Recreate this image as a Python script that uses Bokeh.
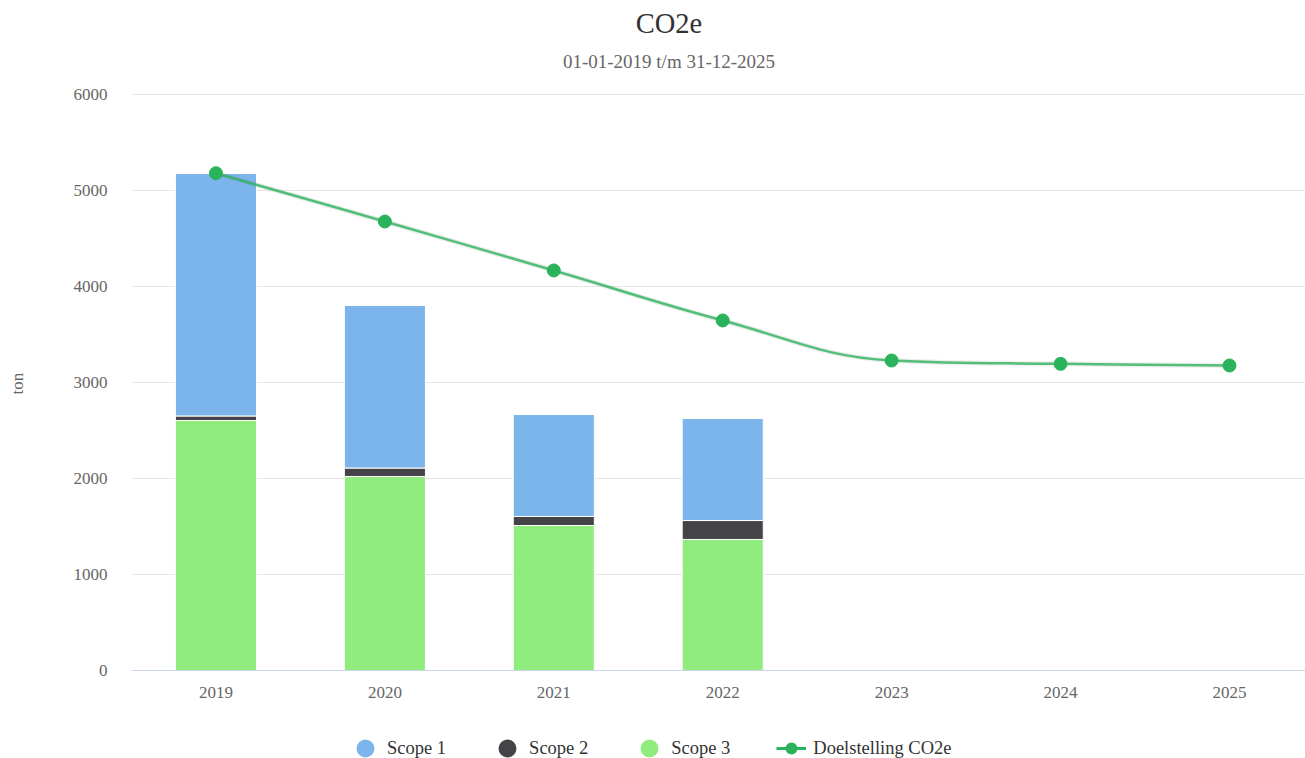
from bokeh.plotting import figure
from bokeh.models import (Range1d, FixedTicker, Label, Legend, LegendItem, ColumnDataSource)
from bokeh.embed import file_html
from bokeh.resources import INLINE

# ---- data ----
years = ["2019", "2020", "2021", "2022", "2023", "2024", "2025"]
bar_years = ["2019", "2020", "2021", "2022"]
scope1 = [2526, 1693, 1063, 1063]
scope2 = [47, 88, 94, 197]
scope3 = [2604, 2021, 1510, 1365]
doelstelling = [5180, 4677, 4167, 3646, 3229, 3194, 3177]
y_ticks = [0, 1000, 2000, 3000, 4000, 5000, 6000]
title_text = "CO2e"
subtitle_text = "01-01-2019 t/m 31-12-2025"

BLUE = "#7cb5ec"
DARK = "#434348"
GREEN = "#90ed7d"
LINE = "#2bb35b"
FONT = "Liberation Serif"

xs = [i + 1 for i in range(len(years))]
bar_x = [years.index(y) + 1 for y in bar_years]

# The frame covers almost the whole canvas; the range is padded below 0 (axis
# labels + legend) and above 6000 (titles) so that 0..6000 sits where it should.
p = figure(width=1305, height=758, x_range=Range1d(0.5, 7.45), y_range=Range1d(-917, 6896),
           output_backend="svg", toolbar_location=None,
           min_border_left=131, min_border_right=0, min_border_top=8, min_border_bottom=0)
p.outline_line_color = None
p.background_fill_color = "white"

src = ColumnDataSource(dict(x=bar_x, s1=scope1, s2=scope2, s3=scope3))
p.vbar_stack(["s3", "s2", "s1"], x="x", width=0.48, source=src,
             fill_color=[GREEN, DARK, BLUE], line_color="white", line_width=1)


# Highcharts-style spline: cubic bezier segments through the data points
def spline_source(xv, yv, smoothing=1.5):
    denom = smoothing + 1
    n = len(xv)
    left = [(xv[i], yv[i]) for i in range(n)]
    right = [(xv[i], yv[i]) for i in range(n)]
    for i in range(1, n - 1):
        x, y = xv[i], yv[i]
        lx, ly = xv[i - 1], yv[i - 1]
        nx, ny = xv[i + 1], yv[i + 1]
        lcx = (smoothing * x + lx) / denom
        lcy = (smoothing * y + ly) / denom
        rcx = (smoothing * x + nx) / denom
        rcy = (smoothing * y + ny) / denom
        corr = (rcy - lcy) * (rcx - x) / (rcx - lcx) + y - rcy
        lcy += corr
        rcy += corr
        if lcy > ly and lcy > y:
            lcy = max(ly, y); rcy = 2 * y - lcy
        elif lcy < ly and lcy < y:
            lcy = min(ly, y); rcy = 2 * y - lcy
        if rcy > ny and rcy > y:
            rcy = max(ny, y); lcy = 2 * y - rcy
        elif rcy < ny and rcy < y:
            rcy = min(ny, y); lcy = 2 * y - rcy
        left[i] = (lcx, lcy)
        right[i] = (rcx, rcy)
    d = dict(x0=[], y0=[], x1=[], y1=[], cx0=[], cy0=[], cx1=[], cy1=[])
    for i in range(1, n):
        d["x0"].append(xv[i - 1]); d["y0"].append(yv[i - 1])
        d["x1"].append(xv[i]); d["y1"].append(yv[i])
        d["cx0"].append(right[i - 1][0]); d["cy0"].append(right[i - 1][1])
        d["cx1"].append(left[i][0]); d["cy1"].append(left[i][1])
    return ColumnDataSource(d)


spl = spline_source(xs, doelstelling)
p.bezier(x0="x0", y0="y0", x1="x1", y1="y1", cx0="cx0", cy0="cy0", cx1="cx1", cy1="cy1",
         source=spl, line_color="#777777", line_width=5, line_alpha=0.13)
p.bezier(x0="x0", y0="y0", x1="x1", y1="y1", cx0="cx0", cy0="cy0", cx1="cx1", cy1="cy1",
         source=spl, line_color=LINE, line_width=2.5, line_alpha=0.8)
p.scatter(xs, doelstelling, size=13, marker="circle", fill_color=LINE, line_color=LINE)

# legend proxies (one NaN point each: nothing drawn in the plot, only in the legend)
nan = [float("nan")]
r1 = p.scatter(nan, nan, marker="circle", fill_color=BLUE, line_color=BLUE, line_width=8.4)
r2 = p.scatter(nan, nan, marker="circle", fill_color=DARK, line_color=DARK, line_width=8.4)
r3 = p.scatter(nan, nan, marker="circle", fill_color=GREEN, line_color=GREEN, line_width=8.4)
rl = p.line(nan, nan, color=LINE, line_width=3)
rm = p.scatter(nan, nan, marker="circle", fill_color=LINE, line_color=LINE, line_width=2.4)

leg = Legend(items=[LegendItem(label="Scope 1", renderers=[r1]),
                    LegendItem(label="Scope 2", renderers=[r2]),
                    LegendItem(label="Scope 3", renderers=[r3]),
                    LegendItem(label="Doelstelling CO2e", renderers=[rl, rm])],
             orientation="horizontal", location=(219, -2),
             glyph_width=30, glyph_height=24, label_standoff=7, spacing=46,
             padding=0, margin=0, border_line_color=None, background_fill_alpha=0,
             label_text_font=FONT, label_text_font_size="18.5px", label_text_color="#333333")
p.add_layout(leg, "center")

# titles (screen units from the frame's bottom-left corner)
p.add_layout(Label(x=537.5, y=735, x_units="screen", y_units="screen", text=title_text,
                   text_align="center", text_baseline="alphabetic", text_font=FONT,
                   text_font_size="28.5px", text_color="#333333"))
p.add_layout(Label(x=537.5, y=697, x_units="screen", y_units="screen", text=subtitle_text,
                   text_align="center", text_baseline="alphabetic", text_font=FONT,
                   text_font_size="19px", text_color="#666666"))

# axes
p.yaxis.ticker = FixedTicker(ticks=y_ticks)
p.yaxis.axis_line_color = None
p.yaxis.major_tick_line_color = None
p.yaxis.minor_tick_line_color = None
p.yaxis.major_tick_out = 0
p.yaxis.major_tick_in = 0
p.yaxis.major_label_text_font = FONT
p.yaxis.major_label_text_font_size = "17px"
p.yaxis.major_label_text_color = "#666666"
p.yaxis.major_label_standoff = 24
p.yaxis.axis_label = "ton"
p.yaxis.axis_label_text_font = FONT
p.yaxis.axis_label_text_font_size = "17px"
p.yaxis.axis_label_text_font_style = "normal"
p.yaxis.axis_label_text_color = "#666666"
p.yaxis.axis_label_standoff = 44

p.xaxis.fixed_location = 0
p.xaxis.ticker = FixedTicker(ticks=xs)
p.xaxis.major_label_overrides = {x: y for x, y in zip(xs, years)}
p.xaxis.axis_line_color = "#ccd6eb"
p.xaxis.major_tick_line_color = None
p.xaxis.minor_tick_line_color = None
p.xaxis.major_tick_out = 0
p.xaxis.major_tick_in = 0
p.xaxis.major_label_text_font = FONT
p.xaxis.major_label_text_font_size = "17px"
p.xaxis.major_label_text_color = "#666666"
p.xaxis.major_label_standoff = 17

p.xgrid.grid_line_color = None
p.ygrid.grid_line_color = "#e6e6e6"

open("out.html", "w").write(file_html(p, INLINE))
